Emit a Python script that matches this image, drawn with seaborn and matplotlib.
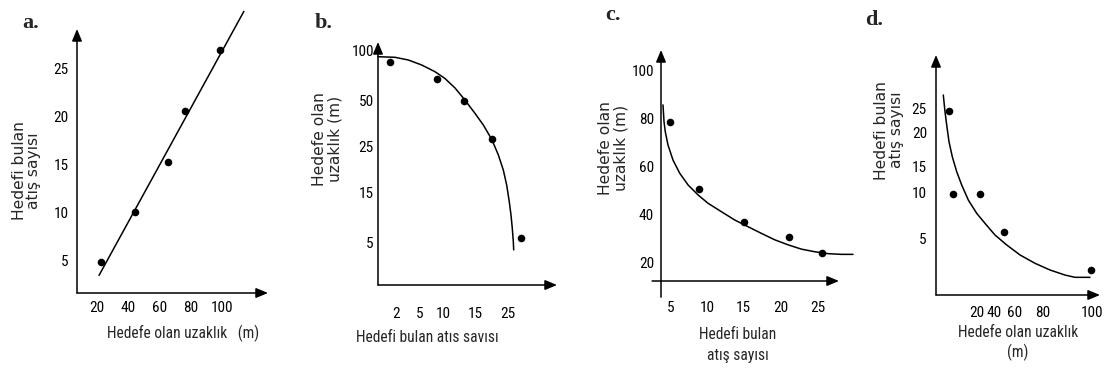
import numpy as np
import matplotlib
matplotlib.use("Agg")
import matplotlib.pyplot as plt
import seaborn as sns

# ---------------------------------------------------------------- data
# a. hits vs. distance (straight line)
a_dist = [22.5, 44.1, 65.7, 76.5, 98.7]
a_hits = [4.8, 10.0, 15.2, 20.5, 26.9]
a_fit_dist = [21.3, 114.0]
a_fit_hits = [3.4, 30.9]
a_xticks = [20, 40, 60, 80, 100]
a_yticks = [5, 10, 15, 20, 25]

# b. distance vs. hits (falling, concave)
b_hits = [1.33, 8.63, 13.33, 20.06, 28.85]
b_dist = [88.3, 70.7, 49.5, 29.1, 5.9]
b_curve_hits = [0.0, 1.89, 3.54, 5.37, 8.26, 10.31, 11.88, 13.33, 15.0, 17.52,
                20.06, 22.06, 23.58, 24.61, 25.39, 25.91, 26.30, 26.61, 26.73]
b_curve_dist = [93.3, 92.7, 90.0, 85.0, 78.3, 71.5, 62.0, 50.7, 42.9, 36.7,
                29.1, 23.3, 20.0, 16.7, 13.2, 10.5, 7.8, 5.06, 3.4]
b_xticks = [2, 5, 10, 15, 25]
b_yticks = [5, 15, 25, 50, 100]

# c. distance vs. hits (falling, convex)
c_hits = [4.98, 8.87, 15.03, 21.14, 25.67]
c_dist = [78.5, 50.6, 36.9, 30.6, 23.6]
c_curve_hits = [4.02, 4.16, 4.33, 4.70, 5.38, 6.29, 7.42, 8.78, 10.14, 11.94,
                13.76, 15.57, 17.38, 19.20, 21.01, 22.81, 24.63, 26.44, 28.25, 29.84]
c_curve_dist = [85.8, 78.8, 74.6, 69.0, 62.7, 57.2, 52.3, 48.1, 44.6, 41.1,
                37.6, 34.8, 32.0, 29.3, 27.2, 25.4, 24.3, 23.5, 23.2, 23.2]
c_xticks = [5, 10, 15, 20, 25]
c_yticks = [20, 40, 60, 80, 100]

# d. hits vs. distance (falling, convex)
d_dist = [6.34, 8.44, 23.5, 49.5, 99.5]
d_hits = [24.46, 9.89, 9.89, 5.7, 2.19]
d_curve_dist = [3.56, 4.39, 5.22, 6.34, 7.95, 10.10, 12.54, 15.76, 19.85, 29.4,
                40.95, 52.1, 63.6, 74.3, 82.9, 88.98, 93.06, 99.18]
d_curve_hits = [27.6, 24.26, 21.6, 18.68, 16.41, 13.94, 11.48, 9.22, 7.74, 6.63,
                5.33, 4.39, 3.51, 2.78, 2.19, 1.75, 1.55, 1.55]
d_xticks = [20, 40, 60, 80, 100]
d_yticks = [5, 10, 15, 20, 25]

lbl_dist = "Hedefe olan uzaklık"
lbl_hits = "Hedefi bulan"

# ---------------------------------------------------------------- style
sns.set_style("white")
plt.rcParams["font.family"] = ["Roboto Condensed", "Liberation Sans", "DejaVu Sans"]

W, H = 1108, 370
fig = plt.figure(figsize=(W / 100, H / 100), dpi=100)
fig.patch.set_facecolor("white")


def make_scale(vals, pos):
    """Piecewise-linear mapping between axis values and drawing positions."""
    vals = np.asarray(vals, float)
    pos = np.asarray(pos, float)

    def _interp(x, xp, fp):
        x = np.asarray(x, float)
        y = np.interp(x, xp, fp)
        lo = (fp[1] - fp[0]) / (xp[1] - xp[0])
        hi = (fp[-1] - fp[-2]) / (xp[-1] - xp[-2])
        y = np.where(x < xp[0], fp[0] + (x - xp[0]) * lo, y)
        y = np.where(x > xp[-1], fp[-1] + (x - xp[-1]) * hi, y)
        return y

    return (lambda v: _interp(v, vals, pos)), (lambda p: _interp(p, pos, vals))


ARROW = dict(arrowstyle="-|>,head_length=0.6,head_width=0.25", color="black",
             lw=1.1, shrinkA=0, shrinkB=0, mutation_scale=12)

TICK_SIZE = 11
XLABEL_SIZE = 11.2
YLABEL_FONT = dict(family="DejaVu Sans", fontsize=11.2)

panels = [
    dict(tag="a.", tag_xy=(22, 23), box=(77, 29, 268, 293), nonlinear=False,
         xk=([20, 100], [97, 222]), yk=([5, 25], [260, 68]),
         px=a_dist, py=a_hits, cx=a_fit_dist, cy=a_fit_hits,
         xt=a_xticks, yt=a_yticks,
         xlabel=lbl_dist + "   (m)", xlab_xy=(183, 333), xls=1.0,
         ylabel=lbl_hits + "\natış sayısı", ylab_xy=(26.5, 171), yls=0.95,
         xpad=5.5, ypad=6, xaxis_from=0.0, yaxis_from=0.0),
    dict(tag="b.", tag_xy=(315, 23), box=(378, 42, 557, 285), nonlinear=True,
         xk=([0, 2, 5, 10, 15, 25], [378, 396, 420, 443, 475, 508]),
         yk=([5, 15, 25, 50, 100], [242, 193, 147, 100, 50]),
         px=b_hits, py=b_dist, cx=b_curve_hits, cy=b_curve_dist,
         xt=b_xticks, yt=b_yticks,
         xlabel="Hedefi bulan atıs savısı", xlab_xy=(427, 338), xls=1.0,
         ylabel="Hedefe olan\nuzaklık (m)", ylab_xy=(327, 139), yls=1.0,
         xpad=15.5, ypad=3, xaxis_from=0.0, yaxis_from=0.0),
    dict(tag="c.", tag_xy=(605, 15), box=(661, 50, 839, 281), nonlinear=False,
         xk=([5, 25], [670.2, 817.4]), yk=([20, 100], [262, 71]),
         px=c_hits, py=c_dist, cx=c_curve_hits, cy=c_curve_dist,
         xt=c_xticks, yt=c_yticks,
         xlabel=lbl_hits + "\natış sayısı", xlab_xy=(738, 345), xls=1.55,
         ylabel="Hedefe olan\nuzaklık (m)", ylab_xy=(613, 148), yls=1.0,
         xpad=14.5, ypad=5, xaxis_from=-0.05, yaxis_from=-0.07),
    dict(tag="d.", tag_xy=(865, 20), box=(936, 55, 1100, 295), nonlinear=True,
         xk=([0, 20, 40, 60, 80, 100], [936, 977, 994, 1015, 1043, 1092]),
         yk=([0, 5, 10, 15, 20, 25], [295, 238, 193, 166, 133, 108]),
         px=d_dist, py=d_hits, cx=d_curve_dist, cy=d_curve_hits,
         xt=d_xticks, yt=d_yticks,
         xlabel=lbl_dist + "\n(m)", xlab_xy=(1018, 343), xls=1.25,
         ylabel=lbl_hits + "\natış sayısı", ylab_xy=(889, 130), yls=1.0,
         xpad=8, ypad=6.5, xaxis_from=0.0, yaxis_from=0.0),
]

for p in panels:
    l, t, r, b = p["box"]
    ax = fig.add_axes([l / W, 1 - b / H, (r - l) / W, (b - t) / H])
    ax.patch.set_alpha(0)

    fx, ix = make_scale(*p["xk"])
    fy, iy = make_scale(p["yk"][0], [-v for v in p["yk"][1]])
    if p["nonlinear"]:
        ax.set_xscale("function", functions=(fx, ix))
        ax.set_yscale("function", functions=(fy, iy))

    sns.lineplot(x=p["cx"], y=p["cy"], ax=ax, color="black", lw=1.1,
                 sort=False, estimator=None, clip_on=False)
    sns.scatterplot(x=p["px"], y=p["py"], ax=ax, color="black", s=30,
                    linewidth=0, zorder=3, clip_on=False)

    ax.set_xlim(float(ix(l)), float(ix(r)))
    ax.set_ylim(float(iy(-b)), float(iy(-t)))

    for s in ax.spines.values():
        s.set_visible(False)
    ax.annotate("", xy=(1, 0), xytext=(p["xaxis_from"], 0),
                xycoords="axes fraction", textcoords="axes fraction",
                arrowprops=ARROW, annotation_clip=False)
    ax.annotate("", xy=(0, 1), xytext=(0, p["yaxis_from"]),
                xycoords="axes fraction", textcoords="axes fraction",
                arrowprops=ARROW, annotation_clip=False)

    ax.set_xticks(p["xt"])
    ax.set_xticklabels([str(v) for v in p["xt"]])
    ax.set_yticks(p["yt"])
    ax.set_yticklabels([str(v) for v in p["yt"]])
    ax.minorticks_off()
    ax.tick_params(axis="both", length=0, labelsize=TICK_SIZE, colors="black")
    ax.tick_params(axis="x", pad=p["xpad"])
    ax.tick_params(axis="y", pad=p["ypad"])

    ax.set_xlabel(p["xlabel"], fontsize=XLABEL_SIZE, va="center", ha="center",
                  linespacing=p["xls"])
    ax.xaxis.set_label_coords((p["xlab_xy"][0] - l) / (r - l),
                              (b - p["xlab_xy"][1]) / (b - t))
    ax.set_ylabel(p["ylabel"], va="center", ha="center",
                  linespacing=p["yls"], multialignment="center", **YLABEL_FONT)
    ax.yaxis.set_label_coords((p["ylab_xy"][0] - l) / (r - l),
                              (b - p["ylab_xy"][1]) / (b - t))

    fig.text(p["tag_xy"][0] / W, 1 - p["tag_xy"][1] / H, p["tag"],
             family="Liberation Serif", weight="bold", fontsize=16,
             ha="left", va="center")

fig.savefig("out.png", dpi=100, facecolor="white")
